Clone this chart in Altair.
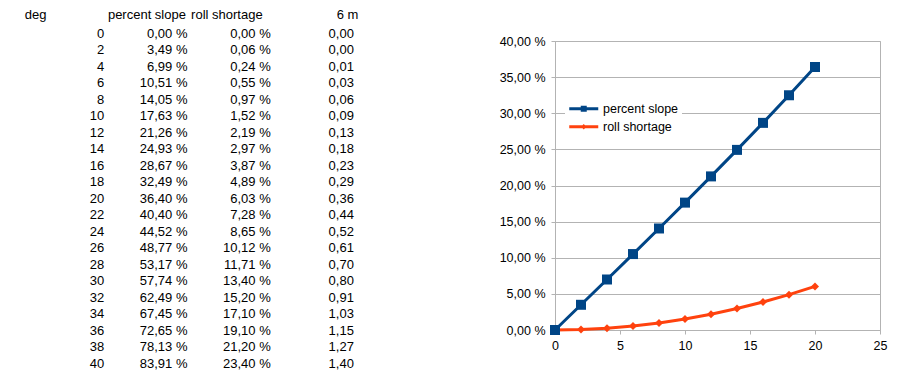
import altair as alt
import pandas as pd

# ---------------- data ----------------
deg = [0, 2, 4, 6, 8, 10, 12, 14, 16, 18, 20, 22, 24, 26, 28, 30, 32, 34, 36, 38, 40]
percent_slope = [0.00, 3.49, 6.99, 10.51, 14.05, 17.63, 21.26, 24.93, 28.67, 32.49, 36.40,
                 40.40, 44.52, 48.77, 53.17, 57.74, 62.49, 67.45, 72.65, 78.13, 83.91]
roll_shortage = [0.00, 0.06, 0.24, 0.55, 0.97, 1.52, 2.19, 2.97, 3.87, 4.89, 6.03,
                 7.28, 8.65, 10.12, 11.71, 13.40, 15.20, 17.10, 19.10, 21.20, 23.40]
six_m = [0.00, 0.00, 0.01, 0.03, 0.06, 0.09, 0.13, 0.18, 0.23, 0.29, 0.36,
         0.44, 0.52, 0.61, 0.70, 0.80, 0.91, 1.03, 1.15, 1.27, 1.40]
headers = ["deg", "percent slope", "roll shortage", "6 m"]
series = ["percent slope", "roll shortage"]
chart_points = 11          # the chart plots the rows up to 20 deg
x_ticks = [0, 5, 10, 15, 20, 25]
y_ticks = [0, 5, 10, 15, 20, 25, 30, 35, 40]

# ---------------- table ----------------
def pct(v):
    return f"{v:.2f}".replace(".", ",") + " %"

def dec(v):
    return f"{v:.2f}".replace(".", ",")

cells = []
for i in range(len(deg)):
    cells.append({"row": i + 1, "col": headers[0], "text": str(deg[i])})
    cells.append({"row": i + 1, "col": headers[1], "text": pct(percent_slope[i])})
    cells.append({"row": i + 1, "col": headers[2], "text": pct(roll_shortage[i])})
    cells.append({"row": i + 1, "col": headers[3], "text": dec(six_m[i])})
cells_df = pd.DataFrame(cells)
head_left = pd.DataFrame({"row": [0, 0, 0], "col": headers[:3], "text": headers[:3]})
head_right = pd.DataFrame({"row": [0], "col": headers[3:], "text": headers[3:]})

tx = alt.X("col:N", scale=alt.Scale(type="point", domain=headers, padding=0.6394, align=0.8957), axis=None)
ty = alt.Y("row:Q", scale=alt.Scale(domain=[1.2, 18.715], reverse=True, nice=False, zero=False), axis=None)
tstyle = dict(font="Liberation Sans", fontSize=13, color="black", baseline="alphabetic")

t_vals = alt.Chart(cells_df).mark_text(align="right", **tstyle).encode(x=tx, y=ty, text="text:N")
t_hl = alt.Chart(head_left).mark_text(align="left", dx=-79.6, dy=-1.7, **tstyle).encode(x=tx, y=ty, text="text:N")
t_hr = alt.Chart(head_right).mark_text(align="right", dx=4.5, dy=-1.7, **tstyle).encode(x=tx, y=ty, text="text:N")
table = alt.layer(t_vals, t_hl, t_hr).properties(
    width=356, height=289, view=alt.ViewBackground(stroke="transparent"))

# ---------------- chart ----------------
blue = "#004586"
orange = "#ff420e"
ps_df = pd.DataFrame({"deg": deg[:chart_points], "value": percent_slope[:chart_points], "series": series[0]})
rs_df = pd.DataFrame({"deg": deg[:chart_points], "value": roll_shortage[:chart_points], "series": series[1]})
all_df = pd.concat([ps_df, rs_df])

X = alt.X("deg:Q", scale=alt.Scale(domain=[0, 25], nice=False),
          axis=alt.Axis(values=x_ticks, title=None, grid=False, tickSize=4, labelPadding=5,
                        format="d", labelFlush=False))
Y = alt.Y("value:Q", scale=alt.Scale(domain=[0, 40], nice=False),
          axis=alt.Axis(values=y_ticks, title=None, grid=True, tickSize=4, labelPadding=6,
                        labelExpr="replace(format(datum.value, '.2f'), '.', ',') + ' %'"))

rs_line = alt.Chart(rs_df).mark_line(color=orange, strokeWidth=3).encode(x=X, y=Y)
rs_pts = alt.Chart(rs_df).mark_point(shape="diamond", filled=True, size=64, color=orange, opacity=1).encode(x=X, y=Y)
ps_line = alt.Chart(ps_df).mark_line(color=blue, strokeWidth=3).encode(x=X, y=Y)
ps_pts = alt.Chart(ps_df).mark_point(shape="square", filled=True, size=100, color=blue, opacity=1).encode(x=X, y=Y)

legend_paths = [
    "M-2.9,-0.3H2.9V0.3H-2.9Z M-0.6,-0.6H0.6V0.6H-0.6Z",
    "M-2.9,-0.3H2.9V0.3H-2.9Z M0,-0.55L0.55,0L0,0.55L-0.55,0Z",
]
leg = alt.Legend(orient="none", legendX=10, legendY=58.5, title=None, symbolSize=100,
                 symbolOffset=9.5, labelOffset=13, labelFont="Liberation Sans", labelFontSize=12.5,
                 labelColor="black", fillColor="white", padding=3, rowPadding=5, symbolStrokeWidth=0)
legend_layer = alt.Chart(all_df).transform_filter("false").mark_point(filled=True, opacity=1).encode(
    x=X, y=Y,
    color=alt.Color("series:N", scale=alt.Scale(domain=series, range=[blue, orange]), legend=leg),
    shape=alt.Shape("series:N", scale=alt.Scale(domain=series, range=legend_paths), legend=leg),
)

plot = alt.layer(rs_line, rs_pts, ps_line, ps_pts, legend_layer).properties(width=325, height=289)

chart = alt.hconcat(table, plot, spacing=132).resolve_scale(
    color="independent", shape="independent"
).resolve_legend(color="independent", shape="independent").properties(
    padding=0, background="white"
).configure_view(stroke="#b3b3b3").configure_axis(
    domainColor="#b3b3b3", tickColor="#b3b3b3", gridColor="#b3b3b3",
    labelColor="black", labelFont="Liberation Sans", labelFontSize=12.5,
)

chart.save("out.html", embed_options={"renderer": "svg", "actions": False})
